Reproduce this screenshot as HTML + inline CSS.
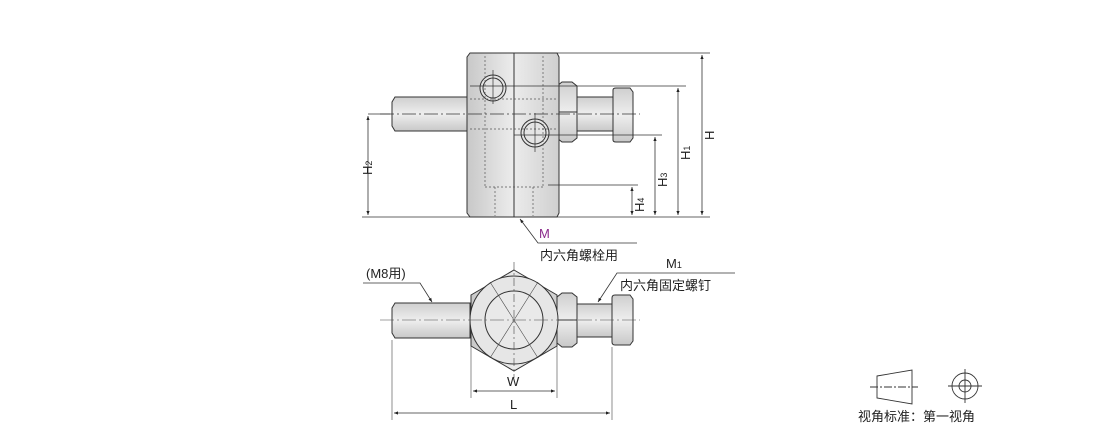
<!DOCTYPE html><html><head><style>body{margin:0;background:#fff}svg{display:block}text{font-family:"Liberation Sans","Noto Sans CJK SC",sans-serif;fill:#222}</style></head><body>
<svg width="1100" height="427" viewBox="0 0 1100 427">
<defs><marker id="a" viewBox="0 0 10 10" refX="10" refY="5" markerWidth="7" markerHeight="5" orient="auto-start-reverse"><path d="M0,1L10,5L0,9z" fill="#222"/></marker>
<linearGradient id="g" x1="0" x2="1"><stop offset="0" stop-color="#c8c8c8"/><stop offset=".5" stop-color="#ececec"/><stop offset="1" stop-color="#cfcfcf"/></linearGradient>
<linearGradient id="gv" x1="0" y1="0" x2="0" y2="1"><stop offset="0" stop-color="#cfcfcf"/><stop offset=".5" stop-color="#eeeeee"/><stop offset="1" stop-color="#c8c8c8"/></linearGradient></defs>
<g stroke="#333" stroke-width="1" fill="url(#gv)">
<!-- top view -->
<path d="M395,97H470V131H395L392,126V102Z"/>
<rect x="577" y="97" width="36" height="34"/>
<path d="M557,86L562,82H572L577,86V138L572,142H562L557,138Z"/>
<line x1="557" y1="112" x2="577" y2="112"/>
<path d="M613,90Q613,88 616,88H630L633,92V138L630,142H616Q613,142 613,140Z"/>
<path d="M470,53H557L559,57V213L557,217H470L467,213V57Z" fill="url(#g)"/>
<line x1="514" y1="53" x2="514" y2="217"/>
<circle cx="493" cy="88" r="13" fill="#e4e4e4"/><circle cx="493" cy="88" r="10" fill="none"/>
<circle cx="535" cy="133" r="14" fill="#e4e4e4"/><circle cx="535" cy="133" r="11" fill="none"/>
</g>
<g stroke="#555" stroke-width=".7" fill="none" stroke-dasharray="2,2">
<line x1="485" y1="56" x2="485" y2="187"/><line x1="543" y1="56" x2="543" y2="187"/>
<line x1="485" y1="187" x2="543" y2="187"/>
<line x1="495" y1="187" x2="495" y2="216"/><line x1="533" y1="187" x2="533" y2="216"/>
<line x1="470" y1="99" x2="557" y2="99"/><line x1="470" y1="129" x2="557" y2="129"/>
</g>
<g stroke="#333" stroke-width=".7" fill="none">
<line x1="380" y1="114" x2="640" y2="114" stroke-dasharray="14,3,2,3"/>
<line x1="493" y1="70" x2="493" y2="104"/><line x1="535" y1="113" x2="535" y2="152"/>
<line x1="362" y1="217" x2="710" y2="217"/>
<line x1="557" y1="53" x2="710" y2="53"/>
<line x1="470" y1="86" x2="686" y2="86"/>
<line x1="514" y1="135" x2="662" y2="135"/>
<line x1="548" y1="185" x2="638" y2="185"/>
<line x1="368" y1="114" x2="390" y2="114"/>
</g>
<g stroke="#333" stroke-width=".8" fill="none">
<line x1="702" y1="55" x2="702" y2="215" marker-start="url(#a)" marker-end="url(#a)"/>
<line x1="678" y1="88" x2="678" y2="215" marker-start="url(#a)" marker-end="url(#a)"/>
<line x1="655" y1="137" x2="655" y2="215" marker-start="url(#a)" marker-end="url(#a)"/>
<line x1="632" y1="187" x2="632" y2="215" marker-start="url(#a)" marker-end="url(#a)"/>
<line x1="368" y1="116" x2="368" y2="215" marker-start="url(#a)" marker-end="url(#a)"/>
</g>
<g font-size="13">
<text transform="translate(714,140) rotate(-90)">H</text>
<text transform="translate(690,160) rotate(-90)">H<tspan font-size="9" dy="0">1</tspan></text>
<text transform="translate(667,187) rotate(-90)">H<tspan font-size="9">3</tspan></text>
<text transform="translate(644,212) rotate(-90)">H<tspan font-size="9">4</tspan></text>
<text transform="translate(372,175) rotate(-90)">H<tspan font-size="9">2</tspan></text>
</g>
<!-- bottom view -->
<g stroke="#333" stroke-width="1" fill="url(#gv)">
<path d="M395,303H470V338H395L392,333V308Z"/>
<rect x="577" y="304" width="36" height="33"/>
<path d="M557,297L562,293H572L577,297V343L572,347H562L557,343Z"/>
<line x1="557" y1="320" x2="577" y2="320"/>
<path d="M612,298Q612,295 615,295H630L633,299V341L630,345H615Q612,345 612,342Z"/>
<polygon points="514,270 557,295 557,346 514,371 471,346 471,295" fill="url(#g)"/>
<circle cx="514" cy="320" r="44" fill="#e6e6e6"/><circle cx="514" cy="320" r="29" fill="#e9e9e9"/>
</g>
<g stroke="#444" stroke-width=".6" fill="none">
<line x1="380" y1="320" x2="640" y2="320" stroke-dasharray="14,3,2,3"/>
<line x1="514" y1="262" x2="514" y2="378" stroke-dasharray="8,3,2,3"/>
<line x1="490" y1="282" x2="538" y2="358"/><line x1="538" y1="282" x2="490" y2="358"/>
<line x1="392" y1="340" x2="392" y2="420"/><line x1="612" y1="347" x2="612" y2="420"/>
<line x1="471" y1="346" x2="471" y2="398"/><line x1="557" y1="346" x2="557" y2="398"/>
</g>
<g stroke="#333" stroke-width=".8" fill="none">
<line x1="473" y1="391" x2="555" y2="391" marker-start="url(#a)" marker-end="url(#a)"/>
<line x1="394" y1="413" x2="610" y2="413" marker-start="url(#a)" marker-end="url(#a)"/>
<polyline points="520,219 538,243 637,243" marker-start="url(#a)"/>
<polyline points="363,283 420,283 432,302" marker-end="url(#a)"/>
<polyline points="735,273 617,273 598,302" marker-end="url(#a)"/>
</g>
<g font-size="13">
<text x="507" y="386">W</text><text x="510" y="409">L</text>
<text x="539" y="238" style="fill:#8b2a8b">M</text>
<text x="540" y="260">内六角螺栓用</text>
<text x="366" y="278">(M8用)</text>
<text x="666" y="268">M<tspan font-size="9">1</tspan></text>
<text x="620" y="290">内六角固定螺钉</text>
</g>
<!-- symbol -->
<g stroke="#333" stroke-width=".9" fill="none">
<polygon points="877,376 912,370 912,404 877,398"/>
<line x1="870" y1="387" x2="918" y2="387" stroke-dasharray="8,2,2,2"/>
<circle cx="965" cy="386" r="13"/><circle cx="965" cy="386" r="6"/>
<line x1="948" y1="386" x2="982" y2="386"/><line x1="965" y1="369" x2="965" y2="403"/>
</g>
<text x="858" y="421" font-size="13">视角标准：第一视角</text>
</svg></body></html>
